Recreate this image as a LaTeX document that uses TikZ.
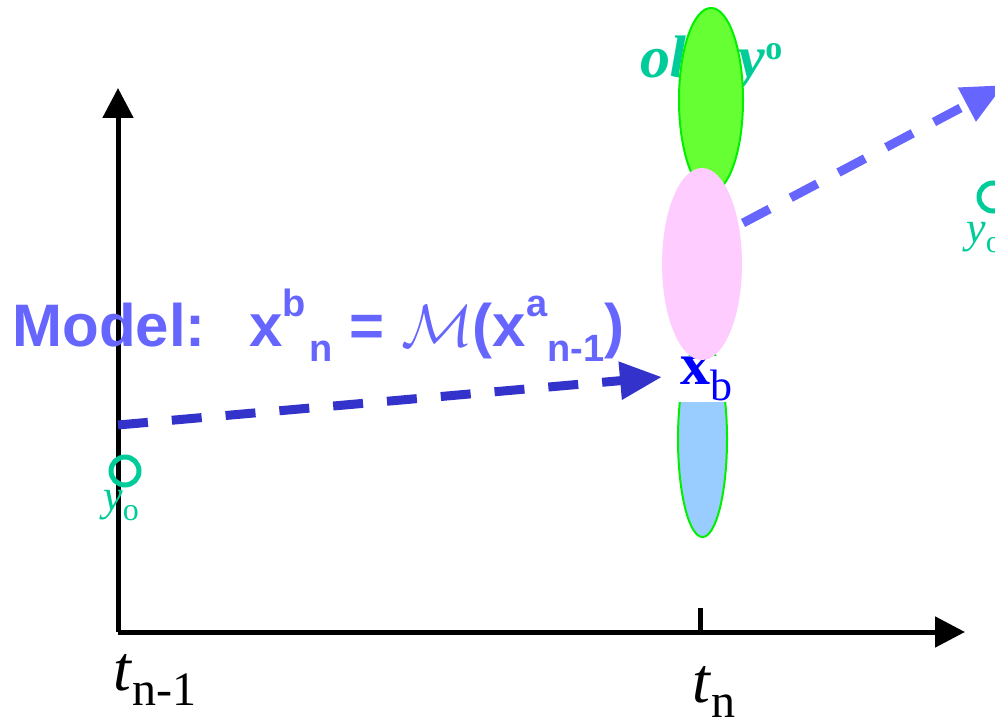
\documentclass[tikz,border=0pt]{standalone}
\usepackage{fontspec}
\setmainfont{Liberation Serif}
\setsansfont{Liberation Sans}
\usepackage{xcolor}
\definecolor{obscol}{RGB}{0,204,153}
\definecolor{modelcol}{RGB}{102,102,255}
\definecolor{fcstcol}{RGB}{51,51,204}
\definecolor{obsfill}{RGB}{102,255,51}
\definecolor{rimcol}{RGB}{0,240,0}
\definecolor{anafill}{RGB}{255,204,255}
\definecolor{bgfill}{RGB}{153,204,255}
\definecolor{xbcol}{RGB}{0,0,255}
\usepackage{tikz}
\usetikzlibrary{arrows.meta,shapes.geometric}
\tikzset{
  axis/.style={line width=2.5pt,-{Triangle[length=15pt,width=15pt]}},
  flow/.style={line width=4.5pt,dash pattern=on 15pt off 12pt,%
    -{Triangle[length=21pt,width=18pt]}},
  blob/.style={ellipse,inner sep=0pt,outer sep=0pt},
  obsring/.style={circle,draw=obscol,line width=2.5pt,minimum size=14pt,inner sep=0pt},
  obslabel/.style={text=obscol,inner sep=0pt,anchor=base west,%
    font=\fontsize{22}{22}\selectfont\itshape},
  tlabel/.style={inner sep=0pt,anchor=base west,font=\fontsize{32}{32}\selectfont},
}
\newcommand{\supx}[1]{\raisebox{0.5em}{\fontsize{19}{19}\selectfont#1}}
\newcommand{\subx}[1]{\raisebox{-0.25em}{\fontsize{19}{19}\selectfont#1}}
\newcommand{\tsub}[1]{\raisebox{-7.5pt}{\upshape\fontsize{24}{24}\selectfont#1}}

\begin{document}
\begin{tikzpicture}[x=0.5pt,y=-0.5pt]
\useasboundingbox (0,0) rectangle (995,721);
\clip (0,0) rectangle (995,721);
% axes
\coordinate (O) at (118,632);
\coordinate (ytop) at (118,88);
\coordinate (xend) at (965,632);
\coordinate (tick) at (700,632);
\draw[axis] (O) -- (ytop);
\draw[axis] (O) -- (xend);
\draw[line width=2.5pt] (tick) -- ++(0,-24);
\node[tlabel] (tprev) at (113,690) {\textit{t}\tsub{n-1}};
\node[tlabel] (tnow) at (692,702) {\textit{t}\tsub{n}};
% observations
\node[obsring] (y0) at (125,471) {};
\node[obslabel] (y0lab) at (103,510) {y\raisebox{-5pt}{\upshape\fontsize{16}{16}\selectfont o}};
\node[obsring] (y1) at (993,197) {};
\node[obslabel] (y1lab) at (966,243) {y\raisebox{-5pt}{\upshape\fontsize{16}{16}\selectfont o}};
% pdfs at t_n
\node[anchor=base west,inner sep=0pt,text=obscol,font=\fontsize{30}{30}\selectfont\bfseries\itshape]
  (obstxt) at (640,78) {obs y\raisebox{9pt}{\upshape\fontsize{17}{17}\selectfont o}};
\node[blob,fill=obsfill,draw=rimcol,line width=1pt,minimum width=32pt,minimum height=92pt] (obs) at (711,100) {};
\node[blob,fill=bgfill,draw=rimcol,line width=1pt,minimum width=24.5pt,minimum height=98pt] (bg) at (702.5,439) {};
\node[anchor=base west,fill=white,inner sep=0.5pt,text=xbcol] (xb) at (679,385)
  {{\fontsize{30}{30}\selectfont\bfseries x}\raisebox{-8pt}{\fontsize{22}{22}\selectfont b}};
\node[blob,fill=anafill,minimum width=40pt,minimum height=96pt] (ana) at (702,264) {};
% model
\node[anchor=base west,inner sep=0pt,text=modelcol,font=\sffamily\bfseries\fontsize{30}{30}\selectfont]
  (model) at (12,347) {Model:~~\hspace{5pt}x\supx{b}\hspace{2pt}\subx{n} = \scalebox{1.2}{$\mathcal{M}$}(x\supx{a}\subx{n-1})};
\coordinate (m0) at (118,425);
\coordinate (m1) at (662,377);
\draw[flow,fcstcol] (m0) -- (m1);
\coordinate (a0) at (743,223);
\coordinate (a1) at (1004,85);
\draw[flow,modelcol] (a0) -- (a1);
\end{tikzpicture}
\end{document}
